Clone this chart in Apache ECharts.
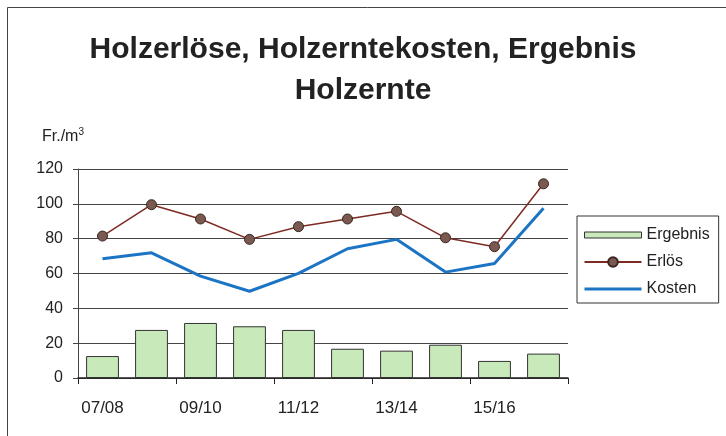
<!DOCTYPE html>
<html>
<head>
<meta charset="utf-8">
<script src="https://cdn.jsdelivr.net/npm/echarts@6/dist/echarts.min.js"></script>
<style>
  html, body { margin: 0; padding: 0; background: #fff; }
  #chart { width: 726px; height: 436px; }
</style>
</head>
<body>
<div id="chart"></div>
<script>
// Jahre (Forstjahr)
const categories = ['07/08', '08/09', '09/10', '10/11', '11/12', '12/13', '13/14', '14/15', '15/16', '16/17']
// Fr./m3
const ergebnis = [12.6, 27.6, 31.6, 29.7, 27.6, 16.8, 15.7, 19.1, 9.8, 14.0]
const erloes = [81.5, 99.5, 91.3, 79.6, 86.9, 91.3, 95.7, 80.5, 75.4, 111.5]
const kosten = [68.5, 71.9, 58.5, 49.8, 60.1, 74.2, 79.6, 60.8, 65.8, 97.4]

const font = 'Liberation Sans, Arial, sans-serif'

const chart = echarts.init(document.getElementById('chart'))

chart.setOption({
  animation: false,
  backgroundColor: '#fff',
  title: {
    text: 'Holzerlöse, Holzerntekosten, Ergebnis\nHolzernte',
    left: 'center',
    top: 24,
    textStyle: {
      fontFamily: font,
      fontSize: 30,
      fontWeight: 'bold',
      color: '#222',
      lineHeight: 41
    }
  },
  graphic: [{
    type: 'rect',
    shape: { x: 7.5, y: 7.5, width: 740, height: 450 },
    style: { fill: 'none', stroke: '#444', lineWidth: 1 },
    silent: true
  }, {
    type: 'text',
    left: 42,
    top: 127,
    style: {
      text: 'Fr./m{s|3}',
      font: '16px ' + font,
      fill: '#222',
      rich: { s: { fontSize: 10, verticalAlign: 'top', padding: [0, 0, 10, 0] } }
    }
  }],
  legend: {
    orient: 'vertical',
    left: 577,
    top: 216,
    padding: [11, 9, 6, 6],
    itemGap: 11,
    itemWidth: 57,
    itemHeight: 12,
    borderColor: '#333',
    borderWidth: 1,
    textStyle: { fontFamily: font, fontSize: 16, color: '#222' },
    data: [
      {
        name: 'Ergebnis',
        icon: 'path://M0,0H57V6H0Z',
        itemStyle: { borderWidth: 1, borderColor: '#333' }
      },
      { name: 'Erlös' },
      {
        name: 'Kosten',
        itemStyle: { color: 'rgba(0,0,0,0)', borderColor: 'rgba(0,0,0,0)', borderWidth: 0 },
        lineStyle: { width: 3 }
      }
    ]
  },
  grid: {
    left: 78,
    top: 169,
    width: 490,
    height: 209
  },
  xAxis: {
    type: 'category',
    data: categories,
    boundaryGap: true,
    axisLine: { lineStyle: { color: '#222', width: 1.5 } },
    axisTick: { show: true, length: 6, inside: false, lineStyle: { color: '#222' } },
    axisLabel: {
      interval: 1,
      margin: 22,
      fontFamily: font,
      fontSize: 17,
      color: '#222'
    }
  },
  yAxis: {
    type: 'value',
    min: 0,
    max: 120,
    interval: 20,
    axisLine: { show: true, lineStyle: { color: '#444' } },
    axisTick: { show: true, length: 5, lineStyle: { color: '#444' } },
    splitLine: { lineStyle: { color: '#444', width: 1 } },
    axisLabel: {
      margin: 15,
      fontFamily: font,
      fontSize: 16,
      color: '#222'
    }
  },
  series: [{
    name: 'Ergebnis',
    type: 'bar',
    data: ergebnis,
    barWidth: '67%',
    itemStyle: { color: '#c8e9b9', borderColor: '#333', borderWidth: 1 },
    z: 1
  }, {
    name: 'Erlös',
    type: 'line',
    data: erloes,
    symbol: 'circle',
    symbolSize: 10,
    lineStyle: { color: '#7d2a22', width: 1.5 },
    itemStyle: { color: '#7a5950', borderColor: '#3a2520', borderWidth: 1 },
    z: 3
  }, {
    name: 'Kosten',
    type: 'line',
    data: kosten,
    symbol: 'none',
    lineStyle: { color: '#1b74c4', width: 3 },
    itemStyle: { color: '#1b74c4' },
    z: 2
  }]
})
</script>
</body>
</html>
